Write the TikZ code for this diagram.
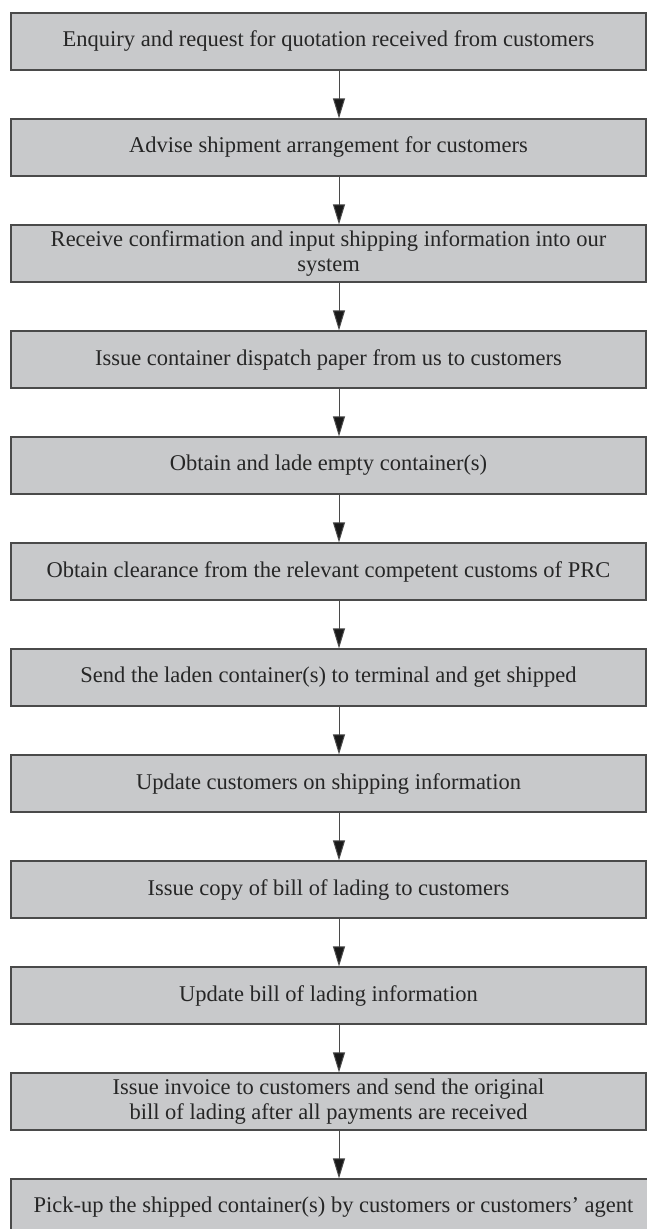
\documentclass[tikz,border=0pt]{standalone}
\usepackage{fontspec}
\setmainfont{Liberation Serif}
\usetikzlibrary{arrows.meta}
\definecolor{boxfill}{HTML}{C8C9CB}
\definecolor{boxline}{HTML}{4A4A4A}
\begin{document}
\begin{tikzpicture}[x=1pt,y=-1pt,
  stepbox/.style={draw=boxline,line width=1.2pt,fill=boxfill,
    minimum width=635pt,minimum height=57pt,align=center,inner sep=0pt,
    font=\fontsize{22.5}{24.5}\selectfont,text=black!85},
  flow/.style={draw=boxline,line width=1pt,
    -{Triangle[length=20pt,width=12pt,fill=black!90]}}]
\useasboundingbox (0,0) rectangle (647,1229);
\clip (0,0) rectangle (647,1229);
\foreach \i/\t in {
  1/{Enquiry and request for quotation received from customers},
  2/{Advise shipment arrangement for customers},
  3/{Receive confirmation and input shipping information into our\\system},
  4/{Issue container dispatch paper from us to customers},
  5/{Obtain and lade empty container(s)},
  6/{Obtain clearance from the relevant competent customs of PRC},
  7/{Send the laden container(s) to terminal and get shipped},
  8/{Update customers on shipping information},
  9/{Issue copy of bill of lading to customers},
  10/{Update bill of lading information},
  11/{Issue invoice to customers and send the original\\bill of lading after all payments are received}}
  \node[stepbox] (b\i) at (328.5,{41.5+106*(\i-1)}) {\t};
% the last step runs off the right-hand edge
\node[stepbox,minimum width=645pt] (b12) at (333.5,{41.5+106*11})
  {Pick-up the shipped container(s) by customers or customers' agent};
\foreach \i [evaluate=\i as \j using int(\i+1)] in {1,...,11}
  \draw[flow] (339,0 |- b\i.south) -- (339,0 |- b\j.north);
\end{tikzpicture}
\end{document}
